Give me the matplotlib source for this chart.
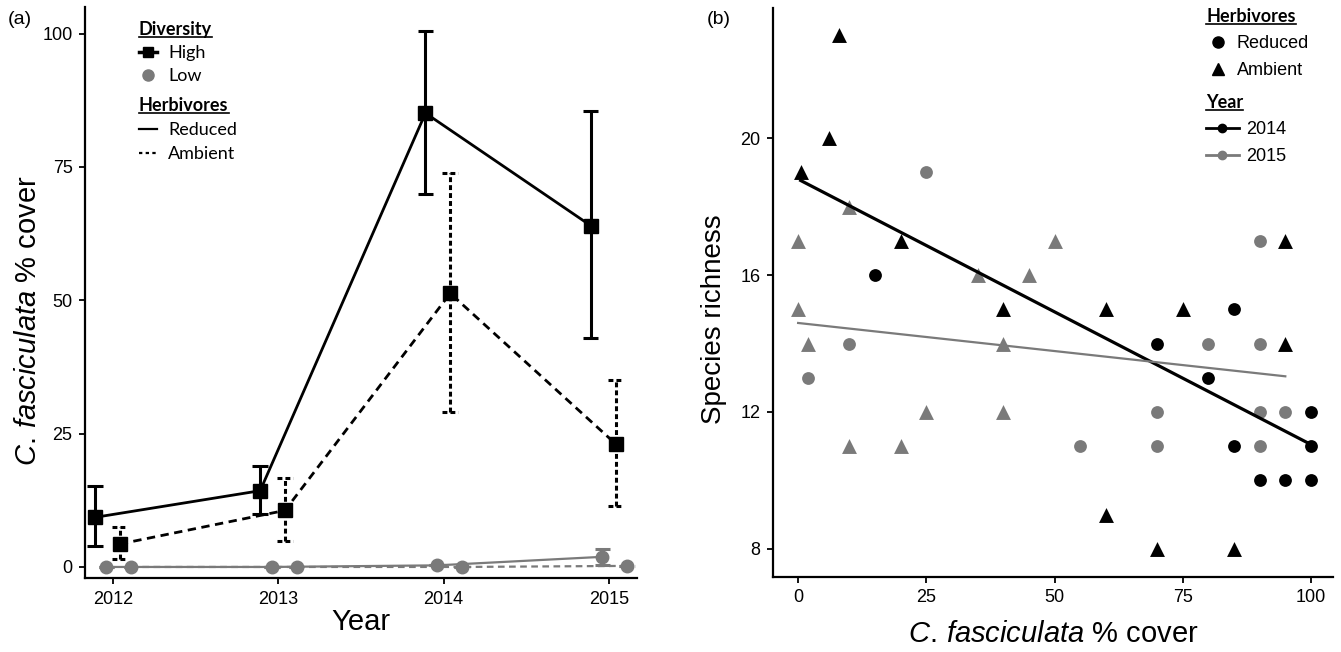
import numpy as np
import matplotlib.pyplot as plt
from matplotlib.lines import Line2D

plt.rcParams['font.family'] = ['Liberation Sans', 'DejaVu Sans']
plt.rcParams['mathtext.fontset'] = 'custom'
plt.rcParams['mathtext.rm'] = 'Liberation Sans'
plt.rcParams['mathtext.it'] = 'Liberation Sans:italic'

W, H = 1341, 652
GREY = '#7a7a7a'

# ---- panel (a): cover by year (mean, lower, upper)
years = np.array([2012, 2013, 2014, 2015])
high_red = [9.3, 14.3, 85.1, 64.0]
high_red_lo = [3.9, 10.0, 69.9, 42.9]
high_red_hi = [15.1, 19.0, 100.5, 85.5]
high_amb = [4.3, 10.6, 51.3, 23.1]
high_amb_lo = [1.5, 4.9, 29.0, 11.5]
high_amb_hi = [7.4, 16.6, 73.9, 35.0]
low_red = [0.0, 0.0, 0.3, 1.9]
low_red_lo = [0.0, 0.0, 0.3, 0.4]
low_red_hi = [0.0, 0.0, 0.3, 3.4]
low_amb = [0.0, 0.0, 0.0, 0.2]
low_amb_lo = [0.0, 0.0, 0.0, 0.2]
low_amb_hi = [0.0, 0.0, 0.0, 0.2]

# ---- panel (b): richness vs cover
red14_x = [15, 85, 70, 80, 100, 85, 100, 90, 95, 100]
red14_y = [16, 15, 14, 13, 12, 11, 11, 10, 10, 10]
amb14_x = [8, 6, 0.5, 20, 95, 40, 60, 75, 95, 60, 70, 85]
amb14_y = [23, 20, 19, 17, 17, 15, 15, 15, 14, 9, 8, 8]
red15_x = [25, 90, 10, 80, 90, 2, 70, 90, 95, 55, 70, 90]
red15_y = [19, 17, 14, 14, 14, 13, 12, 12, 12, 11, 11, 11]
amb15_x = [10, 0, 50, 35, 45, 0, 2, 40, 25, 40, 10, 20]
amb15_y = [18, 17, 17, 16, 16, 15, 14, 14, 12, 12, 11, 11]
fit14 = (18.8, -0.0775)   # intercept, slope
fit15 = (14.6, -0.0164)

COVER = r'$\mathit{C.\,fasciculata}$ % cover'


def px(x0, y0, x1, y1):
    return [x0 / W, 1 - y1 / H, (x1 - x0) / W, (y1 - y0) / H]


def bars(ax, x, lo, hi, color, ls, lw, cap):
    ax.vlines(x, lo, hi, colors=color, linestyles=ls, lw=lw, zorder=2)
    ax.hlines(lo, x - cap, x + cap, colors=color, linestyles=ls, lw=lw, zorder=2)
    ax.hlines(hi, x - cap, x + cap, colors=color, linestyles=ls, lw=lw, zorder=2)


def style(ax):
    for s in ['top', 'right']:
        ax.spines[s].set_visible(False)
    for s in ['left', 'bottom']:
        ax.spines[s].set_linewidth(1.6)
    ax.tick_params(direction='out', length=4, width=1.3, labelsize=13, pad=5)


def underline(fig, leg):
    bb = leg.get_title().get_window_extent()
    y = bb.y0 + 1
    fig.add_artist(Line2D([bb.x0 / W, bb.x1 / W], [y / H, y / H], color='k', lw=1.2))


fig = plt.figure(figsize=(W / 100, H / 100), dpi=100)
axL = fig.add_axes(px(85, 7, 637, 578))
axR = fig.add_axes(px(773, 8, 1333, 577))

dash_line = (0, (3, 2))
dash_bar = (0, (1.6, 1.0))
cap = 0.047

groups = [
    (high_red, high_red_lo, high_red_hi, -0.11, 'k', '-', '-', 's'),
    (low_red, low_red_lo, low_red_hi, -0.04, GREY, '-', '-', 'o'),
    (high_amb, high_amb_lo, high_amb_hi, 0.04, 'k', dash_line, dash_bar, 's'),
    (low_amb, low_amb_lo, low_amb_hi, 0.11, GREY, dash_line, dash_bar, 'o'),
]
for mean, lo, hi, off, col, ls, bls, mk in groups:
    x = years + off
    bars(axL, x, lo, hi, col, bls, 2.2, cap)
    lw = 2.0 if col == 'k' else 1.6
    axL.plot(x, mean, color=col, ls=ls, lw=lw, zorder=3)
    ms = 10 if mk == 's' else 9
    axL.plot(x, mean, ls='none', marker=mk, color=col, ms=ms, zorder=4)

axL.set_xlim(2011.83, 2015.17)
axL.set_ylim(-2.07, 105)
axL.set_xticks(years)
axL.set_yticks([0, 25, 50, 75, 100])
style(axL)
axL.set_xlabel('Year', fontsize=21)
axL.set_ylabel(COVER, fontsize=21)
axL.xaxis.set_label_coords(0.5, -0.053)
axL.yaxis.set_label_coords(-0.077, 0.45)

lfont = {'family': 'Lato', 'size': 13}
tfont = {'family': 'Lato', 'weight': 'bold', 'size': 13}
h1 = [Line2D([], [], color='k', marker='s', ms=7, lw=2.5),
      Line2D([], [], color=GREY, marker='o', ms=8, ls='none')]
legA1 = axL.legend(h1, ['High', 'Low'], title='Diversity', prop=lfont,
                   title_fontproperties=tfont, alignment='left', frameon=False,
                   loc='upper left', bbox_to_anchor=(139 / W, 1 - 21 / H),
                   bbox_transform=fig.transFigure, borderpad=0, borderaxespad=0,
                   handlelength=1.0, handletextpad=0.6, labelspacing=0.4)
axL.add_artist(legA1)
h2 = [Line2D([], [], color='k', lw=1.6),
      Line2D([], [], color='k', lw=1.6, ls=(0, (1.5, 1.5)))]
legA2 = axL.legend(h2, ['Reduced', 'Ambient'], title='Herbivores', prop=lfont,
                   title_fontproperties=tfont, alignment='left', frameon=False,
                   loc='upper left', bbox_to_anchor=(139 / W, 1 - 97 / H),
                   bbox_transform=fig.transFigure, borderpad=0, borderaxespad=0,
                   handlelength=1.0, handletextpad=0.6, labelspacing=0.45)

# panel (b)
axR.scatter(amb15_x, amb15_y, marker='^', s=115, color=GREY, lw=0, zorder=3)
axR.scatter(red15_x, red15_y, marker='o', s=85, color=GREY, lw=0, zorder=3)
axR.scatter(amb14_x, amb14_y, marker='^', s=115, color='k', lw=0, zorder=3)
axR.scatter(red14_x, red14_y, marker='o', s=85, color='k', lw=0, zorder=3)

x14 = np.array([min(amb14_x + red14_x), max(amb14_x + red14_x)])
x15 = np.array([min(amb15_x + red15_x), max(amb15_x + red15_x)])
axR.plot(x14, fit14[0] + fit14[1] * x14, color='k', lw=2.3, zorder=4)
axR.plot(x15, fit15[0] + fit15[1] * x15, color=GREY, lw=1.6, zorder=4)

axR.set_xlim(-4.9, 104.3)
axR.set_ylim(7.18, 23.8)
axR.set_xticks([0, 25, 50, 75, 100])
axR.set_yticks([8, 12, 16, 20])
style(axR)
axR.set_xlabel(COVER, fontsize=21)
axR.set_ylabel('Species richness', fontsize=20)
axR.xaxis.set_label_coords(0.5, -0.075)
axR.yaxis.set_label_coords(-0.082, 0.453)

rfont = {'family': 'Liberation Sans', 'size': 13}
h3 = [Line2D([], [], color='k', marker='o', ms=8, ls='none'),
      Line2D([], [], color='k', marker='^', ms=9, ls='none')]
legB1 = axR.legend(h3, ['Reduced', 'Ambient'], title='Herbivores', prop=rfont,
                   title_fontproperties=tfont, alignment='left', frameon=False,
                   loc='upper left', bbox_to_anchor=(1206 / W, 1 - 8 / H),
                   bbox_transform=fig.transFigure, borderpad=0, borderaxespad=0,
                   handlelength=1.3, handletextpad=0.4, labelspacing=0.55)
axR.add_artist(legB1)
h4 = [Line2D([], [], color='k', marker='o', ms=6, lw=2),
      Line2D([], [], color=GREY, marker='o', ms=6, lw=2)]
legB2 = axR.legend(h4, ['2014', '2015'], title='Year', prop=rfont,
                   title_fontproperties=tfont, alignment='left', frameon=False,
                   loc='upper left', bbox_to_anchor=(1206 / W, 1 - 94 / H),
                   bbox_transform=fig.transFigure, borderpad=0, borderaxespad=0,
                   handlelength=1.8, handletextpad=0.4, labelspacing=0.55)

fig.text(8 / W, 1 - 20 / H, '(a)', fontsize=14, va='center')
fig.text(707 / W, 1 - 20 / H, '(b)', fontsize=14, va='center')

fig.canvas.draw()
for leg in [legA1, legA2, legB1, legB2]:
    underline(fig, leg)

fig.savefig('out.png', dpi=100)
